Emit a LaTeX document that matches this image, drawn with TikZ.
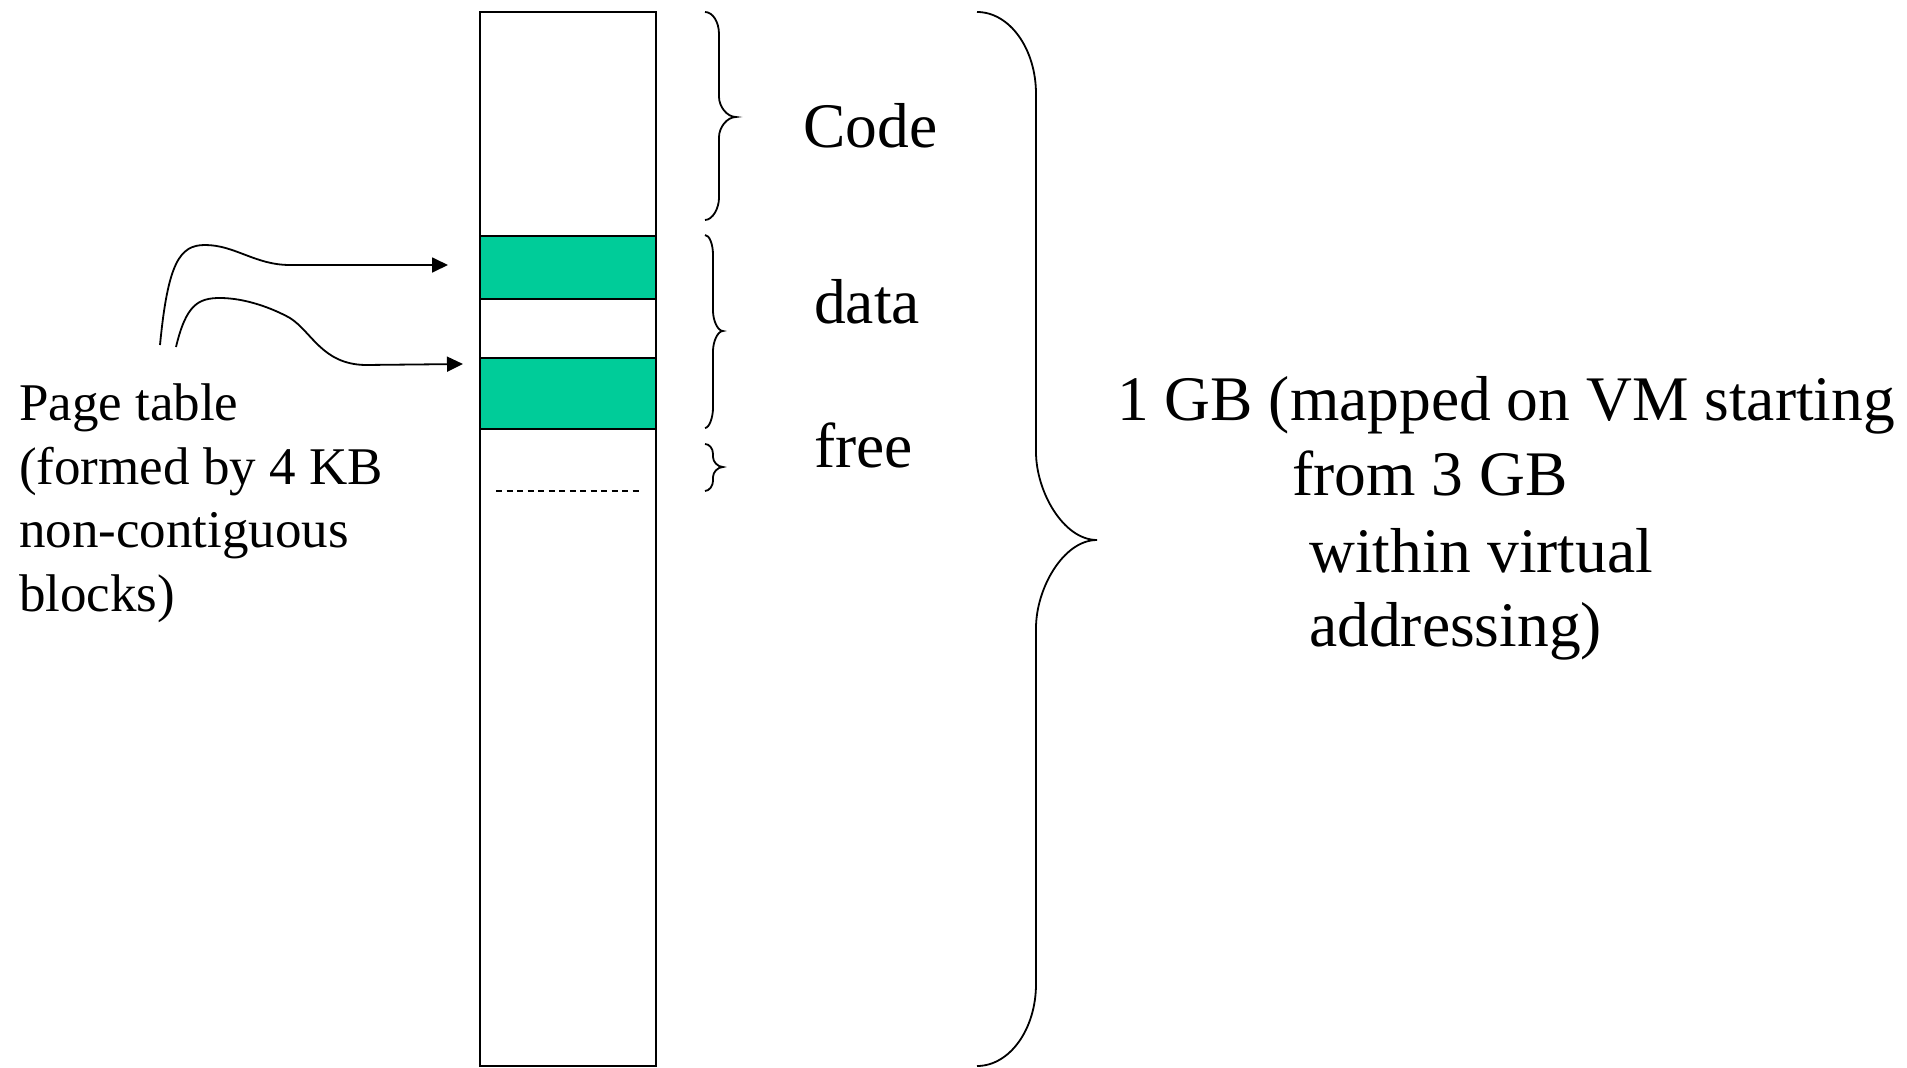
\documentclass[tikz,border=0pt]{standalone}
\usepackage{fontspec}
\setmainfont{Liberation Serif}
\usetikzlibrary{arrows.meta}
\definecolor{blockgreen}{RGB}{0,204,153}
\tikzset{
  biglbl/.style={anchor=base west, inner sep=0pt, font=\fontsize{63.5}{76}\selectfont},
  smlbl/.style={anchor=base west, inner sep=0pt, font=\fontsize{53}{64}\selectfont},
  memline/.style={line width=2pt},
  bracestyle/.style={line width=1.8pt},
  ptr/.style={line width=1.8pt, -{Triangle[length=16pt,width=15pt]}},
}
\begin{document}
\begin{tikzpicture}[x=1pt,y=-1pt]
\useasboundingbox (0,0) rectangle (1907,1068);
% memory column
\draw[memline] (480,12) rectangle (656,1066);
\filldraw[memline, fill=blockgreen] (480,236) rectangle (656,299);
\filldraw[memline, fill=blockgreen] (480,358) rectangle (656,429);
\draw[line width=1.5pt, dash pattern=on 6pt off 4.5pt] (496,491) -- (640,491);
% braces
\draw[bracestyle] (705,12) .. controls (712.7,12) and (719,21.9) .. (719,34) -- (719,97) .. controls (719,106) and (726.6,117) .. (736,117) .. controls (726.6,117) and (719,128) .. (719,137) -- (719,198) .. controls (719,208) and (712.7,220) .. (705,220);
\draw[bracestyle] (705,235) .. controls (709.4,235) and (713,244) .. (713,255) -- (713,311) .. controls (713,320) and (717.5,331) .. (723,331) .. controls (717.5,331) and (713,342) .. (713,351) -- (713,408) .. controls (713,417) and (709.4,428) .. (705,428);
\draw[bracestyle] (705,444) .. controls (709.4,444) and (713,448.5) .. (713,454) -- (713,457) .. controls (713,461.5) and (717.5,467) .. (723,467) .. controls (717.5,467) and (713,472.5) .. (713,477) -- (713,481) .. controls (713,485.5) and (709.4,491) .. (705,491);
\draw[bracestyle] (977,12) .. controls (1009.6,12) and (1036,48.7) .. (1036,94) -- (1036,452) .. controls (1036,491.4) and (1063.3,540) .. (1097,540) .. controls (1063.3,540) and (1036,588.6) .. (1036,628) -- (1036,984) .. controls (1036,1029.3) and (1009.6,1066) .. (977,1066);
% labels
\node[biglbl] (code) at (803,147) {Code};
\node[biglbl] (data) at (814,323) {data};
\node[biglbl] (free) at (814,467) {free};
\node[biglbl] (gb1) at (1117,420) {1 GB (mapped on VM starting};
\node[biglbl] (gb2) at (1292,495) {from 3 GB};
\node[biglbl] (gb3) at (1309,572) {within virtual};
\node[biglbl] (gb4) at (1309,646) {addressing)};
\node[smlbl] (pt1) at (19,420) {Page table};
\node[smlbl] (pt2) at (19,484) {(formed by 4 KB};
\node[smlbl] (pt3) at (19,547) {non-contiguous};
\node[smlbl] (pt4) at (19,611) {blocks)};
% pointers
\coordinate (a1s) at (160,345);
\coordinate (a1e) at (448,265);
\coordinate (a2s) at (176,347);
\coordinate (a2e) at (463,364);
\draw[ptr] (a1s) .. controls (168,262) and (180,245) .. (205,245) .. controls (235,245) and (255,265) .. (290,265) -- (a1e);
\draw[ptr] (a2s) .. controls (186,305) and (198,298) .. (220,298) .. controls (245,298) and (272,308) .. (290,318) .. controls (312,332) and (322,364) .. (365,365) -- (a2e);
\end{tikzpicture}
\end{document}
